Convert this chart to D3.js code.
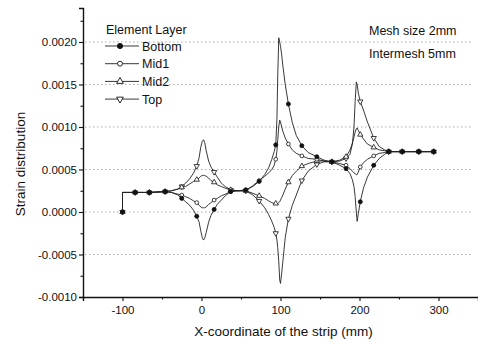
<!DOCTYPE html>
<html>
<head>
<meta charset="utf-8">
<script src="https://cdn.jsdelivr.net/npm/d3@7"></script>
<style>
  body { margin: 0; background: #fff; }
  svg { font-family: "Liberation Sans", Arial, sans-serif; }
</style>
</head>
<body>
<svg id="chart"></svg>
<script>
// x positions along the strip (mm), shared by all four layers
var xs = [-100, -100, -84, -66, -46, -38, -30, -25, -20, -15, -10, -6, -3, -1, 1, 2.5, 4, 6, 9, 12,
  16, 20, 25, 30, 37, 46, 56, 65, 73, 80, 85, 89, 92, 94, 95.5, 96.5, 97.8, 99, 100, 101.5,
  103, 106, 110, 115, 120, 127, 135, 146, 155, 165, 175, 183, 188, 191, 193, 194.5, 196, 197, 198.5, 201,
  205, 210, 218, 225, 232, 237, 254, 275, 294]

var bottom = [0, 0.00023, 0.00023, 0.00023, 0.00024, 0.00023, 0.0002, 0.00016, 0.00012, 0.00008, 0.00002, -0.00005, -0.00012, -0.00022, -0.0003, -0.00033, -0.00031, -0.00024, -0.00012, -0.00004,
  0.00003, 0.00009, 0.00014, 0.00019, 0.00024, 0.00025, 0.00026, 0.0003, 0.00036, 0.00044, 0.00052, 0.00062, 0.00071, 0.00079, 0.0011, 0.0016, 0.00205, 0.002, 0.00195, 0.00185,
  0.00172, 0.0015, 0.00127, 0.00105, 0.0009, 0.00078, 0.0007, 0.00065, 0.00061, 0.00059, 0.00055, 0.00051, 0.00045, 0.00038, 0.0003, 0.00018, 0, -0.00011, -0.00002, 0.00012,
  0.00028, 0.00041, 0.00055, 0.00063, 0.00068, 0.00071, 0.00071, 0.00071, 0.00071]

var mid1 = [0, 0.00023, 0.00023, 0.00023, 0.00024, 0.00023, 0.00021, 0.0002, 0.00018, 0.00016, 0.00013, 0.00011, 0.00008, 0.00006, 0.00005, 0.00005, 0.00005, 0.00006, 0.00009, 0.00011,
  0.00014, 0.00016, 0.00019, 0.00021, 0.00024, 0.00025, 0.00025, 0.00031, 0.00037, 0.00042, 0.00046, 0.0005, 0.00055, 0.00062, 0.00072, 0.00085, 0.001, 0.00108, 0.00106, 0.001,
  0.00095, 0.00087, 0.0008, 0.00073, 0.00069, 0.00066, 0.00063, 0.00062, 0.0006, 0.00059, 0.00057, 0.00055, 0.00051, 0.00048, 0.00046, 0.00045, 0.00044, 0.00044, 0.00047, 0.00053,
  0.00058, 0.00062, 0.00066, 0.00069, 0.0007, 0.00071, 0.00071, 0.00071, 0.00071]

var mid2 = [0, 0.00023, 0.00023, 0.00023, 0.00024, 0.00025, 0.00027, 0.00029, 0.0003, 0.00033, 0.00036, 0.00038, 0.0004, 0.00042, 0.00043, 0.00043, 0.00043, 0.00042, 0.0004, 0.00037,
  0.00035, 0.00032, 0.0003, 0.00028, 0.00026, 0.00025, 0.00025, 0.00022, 0.00019, 0.00016, 0.00013, 0.00011, 0.0001, 0.0001, 0.0001, 0.0001, 0.00011, 0.00012, 0.00014, 0.00017,
  0.0002, 0.00027, 0.00035, 0.00043, 0.00048, 0.00054, 0.00057, 0.0006, 0.0006, 0.00059, 0.00061, 0.00065, 0.00073, 0.00081, 0.00088, 0.00094, 0.00098, 0.00099, 0.00096, 0.00091,
  0.00086, 0.0008, 0.00076, 0.00073, 0.00072, 0.00071, 0.00071, 0.00071, 0.00071]

var topLayer = [0, 0.00023, 0.00023, 0.00023, 0.00024, 0.00025, 0.00027, 0.0003, 0.00034, 0.00039, 0.00046, 0.00054, 0.00064, 0.00076, 0.00083, 0.00085, 0.00082, 0.00072, 0.0006, 0.00053,
  0.00047, 0.00041, 0.00034, 0.0003, 0.00026, 0.00025, 0.00025, 0.0002, 0.00013, 0.00005, -0.00003, -0.00011, -0.00018, -0.00025, -0.00033, -0.00042, -0.00058, -0.0008, -0.00084, -0.00072,
  -0.00058, -0.0003, -0.00008, 0.00008, 0.0002, 0.00037, 0.00048, 0.00056, 0.00059, 0.00059, 0.0006, 0.00063, 0.00068, 0.0008, 0.001, 0.0013, 0.00153, 0.0015, 0.0014, 0.0013,
  0.0012, 0.00106, 0.00087, 0.00077, 0.00073, 0.00071, 0.00071, 0.00071, 0.00071]

// x positions carrying a symbol
var markX = [-100, -84, -66, -46, -25, -6, 16, 37, 56, 73, 94, 110, 127, 146, 165, 183, 201, 218, 237, 254, 275, 294]

var layerNames = ["Bottom", "Mid1", "Mid2", "Top"]
var xTicks = [-100, 0, 100, 200, 300]
var yTicks = [-0.001, -0.0005, 0, 0.0005, 0.001, 0.0015, 0.002]
var notes = ["Mesh size 2mm", "Intermesh 5mm"]


var width = 478,
    height = 343,
    svg = d3.select("#chart").attr("width", width).attr("height", height),
    x = d3.scaleLinear().domain([-150, 350]).range([83, 478]),
    y = d3.scaleLinear().domain([-0.001, 0.0024]).range([297, 8])

var series = [bottom, mid1, mid2, topLayer].map((vals, k) => ({
  name: layerNames[k],
  points: xs.map((xv, i) => ({x: xv, y: vals[i]}))
}))

// dotted grid at the major y ticks
svg.append("g")
  .selectAll("line")
  .data(yTicks.filter((t) => t > -0.001))
  .enter().append("line")
    .attr("x1", x(-150) + 2).attr("x2", 472)
    .attr("y1", (d) => y(d)).attr("y2", (d) => y(d))
    .attr("stroke", "#9a9a9a")
    .attr("stroke-width", 0.8)
    .attr("stroke-dasharray", "1.5,2.5")

// axes (plain hyphen for negatives, as in the original)
var fmtY = (d) => d3.format(".4f")(d).replace("\u2212", "-"),
    fmtX = (d) => String(d)

var yAxis = svg.append("g")
  .attr("transform", `translate(${x(-150)},0)`)
  .call(d3.axisLeft(y).tickValues(yTicks).tickFormat(fmtY).tickSize(4).tickPadding(2))
yAxis.append("g")
  .call(d3.axisLeft(y).tickValues(d3.range(-0.00075, 0.0023, 0.0005)).tickSize(2.5).tickFormat(""))
  .select(".domain").remove()

var xAxis = svg.append("g")
  .attr("transform", `translate(0,${y(-0.001)})`)
  .call(d3.axisBottom(x).tickValues(xTicks).tickFormat(fmtX).tickSize(4).tickPadding(5))
xAxis.append("g")
  .call(d3.axisBottom(x).tickValues([-50, 50, 150, 250]).tickSize(2.5).tickFormat(""))
  .select(".domain").remove()

svg.selectAll(".domain").attr("stroke", "#111").attr("stroke-width", 1.4)
svg.selectAll(".tick line").attr("stroke", "#111").attr("stroke-width", 1.1)
svg.selectAll(".tick text").attr("font-size", 11.5).attr("fill", "#111")
  .attr("font-family", "'Liberation Sans', Arial, sans-serif")

svg.append("text")
  .attr("x", (x(-150) + x(350)) / 2 + 3).attr("y", 336)
  .attr("text-anchor", "middle")
  .attr("font-size", 13.5).attr("fill", "#111")
  .text("X-coordinate of the strip (mm)")

svg.append("text")
  .attr("transform", "translate(25,164) rotate(-90)")
  .attr("text-anchor", "middle")
  .attr("font-size", 13.5).attr("fill", "#111")
  .text("Strain distribution")

// symbols for each layer
var symbols = [
  {type: d3.symbolCircle, size: 13, fill: "#111", rot: 0},
  {type: d3.symbolCircle, size: 11, fill: "#fff", rot: 0},
  {type: d3.symbolTriangle, size: 12, fill: "#fff", rot: 0},
  {type: d3.symbolTriangle, size: 12, fill: "#fff", rot: 180}
]

var line = d3.line().x((d) => x(d.x)).y((d) => y(d.y))

var drawOrder = [3, 2, 1, 0]
drawOrder.forEach((k) => {
  svg.append("path")
    .datum(series[k].points)
    .attr("d", line)
    .attr("fill", "none")
    .attr("stroke", "#222")
    .attr("stroke-width", 0.9)
})

drawOrder.forEach((k) => {
  var sym = symbols[k],
      marks = markX.map((mx) => series[k].points[xs.indexOf(mx)])
  svg.append("g")
    .selectAll("path")
    .data(marks)
    .enter().append("path")
      .attr("d", d3.symbol().type(sym.type).size(sym.size))
      .attr("transform", (d) => `translate(${x(d.x)},${y(d.y)}) rotate(${sym.rot})`)
      .attr("fill", sym.fill)
      .attr("stroke", "#111")
      .attr("stroke-width", 0.8)
})

// legend
var legend = svg.append("g").attr("transform", "translate(105,0)")
legend.append("text")
  .attr("x", 1).attr("y", 34)
  .attr("font-size", 12.5).attr("fill", "#111")
  .text("Element Layer")

var rows = legend.selectAll("g.row")
  .data(layerNames)
  .enter().append("g")
    .attr("class", "row")
    .attr("transform", (d, i) => `translate(0,${46 + i * 17.7})`)
rows.append("line")
  .attr("x1", 0).attr("x2", 34)
  .attr("stroke", "#222").attr("stroke-width", 0.9)
rows.append("path")
  .attr("d", (d, i) => d3.symbol().type(symbols[i].type).size(symbols[i].size + 8)())
  .attr("transform", (d, i) => `translate(15,0) rotate(${symbols[i].rot})`)
  .attr("fill", (d, i) => symbols[i].fill)
  .attr("stroke", "#111").attr("stroke-width", 0.9)
rows.append("text")
  .attr("x", 37).attr("y", 4.5)
  .attr("font-size", 12.5).attr("fill", "#111")
  .text((d) => d)

svg.append("g")
  .selectAll("text")
  .data(notes)
  .enter().append("text")
    .attr("x", 369)
    .attr("y", (d, i) => 35 + i * 23)
    .attr("font-size", 12.5).attr("fill", "#111")
    .text((d) => d)
</script>
</body>
</html>
